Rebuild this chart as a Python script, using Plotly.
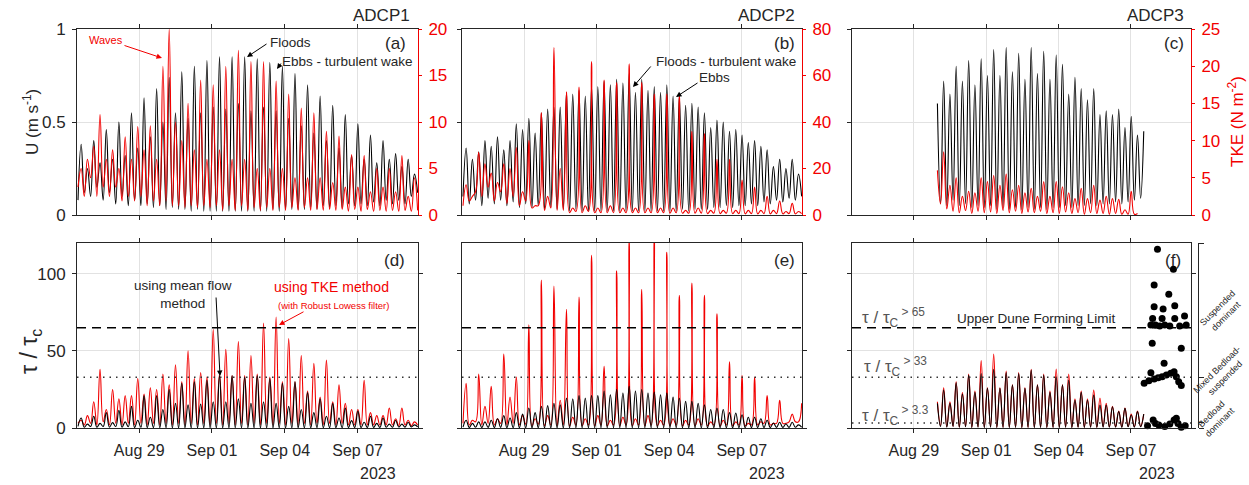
import numpy as np
import pandas as pd
import plotly.graph_objects as go

W, H = 1249, 485
FONT = "Liberation Sans, Arial, sans-serif"
RED = "#f20000"
AXC = "#262626"
GRID = "#e2e2e2"

# ---------------- data ----------------
# Series are sampled every quarter of an M2 tide starting 2023-08-26 11:30:
# even samples = slack (trough), samples 1,5,9.. = flood peaks, 3,7,11.. = ebb peaks
T0 = "2023-08-26 11:30"
STEP_H = 3.11
N_SAMPLES = 109

# (a) ADCP1 depth-mean speed U (m/s) and TKE (N m-2)
a_u_slack = [0.08,0.12,0.10,0.15,0.08,0.12,0.06,0.10,0.05,0.08, 0.05,0.06,0.04,0.05,0.03,0.04,0.03,0.03,0.02,0.03,
             0.02,0.02,0.02,0.02,0.02,0.02,0.02,0.02,0.02,0.02, 0.02,0.03,0.02,0.03,0.03,0.03,0.03,0.04,0.03,0.05,
             0.04,0.05,0.04,0.06,0.05,0.06,0.05,0.07,0.05,0.08, 0.06,0.08,0.06,0.10,0.12]
a_u_flood = [0.38,0.40,0.46,0.50,0.55,0.63,0.68,0.74,0.77,0.80,0.83,0.85,0.85,0.85,0.84,0.82,0.80,0.76,0.70,0.64,
             0.59,0.54,0.49,0.43,0.40,0.33,0.30]
a_u_ebb = [0.25,0.28,0.30,0.32,0.36,0.42,0.50,0.55,0.52,0.55,0.58,0.57,0.60,0.56,0.58,0.56,0.52,0.48,0.44,0.40,
           0.36,0.32,0.30,0.28,0.30,0.26,0.22]
a_tke_slack = [3,2,4,2,3,2,3,1.5,2,1.5, 2,1,1.5,1,1.5,1,1,0.8,1,0.8, 1,0.8,1,0.5,1,0.5,1,0.5,0.8,0.5,
               0.8,0.5,0.8,0.5,0.8,0.5,0.8,0.5,0.6,0.5, 0.6,0.5,0.6,0.4,0.6,0.4,0.6,0.4,0.5,0.4, 0.5,0.4,0.5,0.4,0.5]
a_tke_flood = [5,7.4,6,5,6,7,6,20,8,7,6,7,6,6,5,5,5,4,4,4,3.5,3,3,2.5,3,2.5,2]
a_tke_ebb = [6,10.8,7,8.4,9.5,9.6,16,10,12,14.5,14,16,17.7,16.5,16.5,14.4,13,11.5,11,9,8.5,6.5,6.4,5,5,6.4,4]

# (b) ADCP2
b_u_slack = [0.10,0.06,0.08,0.05,0.09,0.06,0.08,0.05,0.07,0.04, 0.06,0.04,0.05,0.03,0.04,0.03,0.03,0.02,0.03,0.02,
             0.02,0.02,0.02,0.02,0.02,0.02,0.02,0.02,0.02,0.02, 0.02,0.02,0.02,0.02,0.02,0.03,0.02,0.03,0.03,0.03,
             0.04,0.04,0.05,0.04,0.05,0.05,0.06,0.05,0.07,0.06, 0.08,0.07,0.09,0.08,0.10]
b_u_flood = [0.36,0.34,0.37,0.35,0.49,0.52,0.55,0.58,0.66,0.67,0.69,0.72,0.73,0.76,0.73,0.69,0.70,0.64,0.60,0.55,
             0.51,0.45,0.43,0.40,0.35,0.30,0.30]
b_u_ebb = [0.30,0.40,0.42,0.40,0.46,0.44,0.57,0.58,0.65,0.64,0.69,0.70,0.71,0.66,0.67,0.66,0.64,0.59,0.58,0.47,
           0.50,0.46,0.39,0.37,0.26,0.25,0.22]
b_tke_slack = [4,6,10,8,12,6,10,5,8,4, 6,3,4,2,3,2,2,1,1.5,1, 1.5,1,1,1,1,1,1,1,1,1, 1,1,1,0.8,1,0.8,0.8,0.8,0.8,0.6,
               0.8,0.6,0.8,0.6,0.6,0.5,0.6,0.5,0.6,0.5, 0.6,0.5,0.6,0.5,0.6]
b_tke_flood = [13,27,18,22,29,32,44,72,53,55,66,58,57,65,57,52,52,51,36,35,24,24,15,12,8,6,5]
b_tke_ebb = [8,22,14,20,10,4,8,20,3,4,3,4,3,3,3,3,3,2,3,2,2,2,2,2,2,1.5,1.5]

# (c) ADCP3 (record starts ~Aug 30 and ends ~Sep 7)
c_u_slack = [None]*14 + [0.06,0.05,0.08,0.05,0.06,0.04,0.05,0.04,0.05,0.03, 0.04,0.03,0.04,0.03,0.04,0.03,0.04,0.03,
             0.04,0.04, 0.05,0.04,0.05,0.05,0.06,0.05,0.06,0.06,0.07,0.06, 0.07,0.08,0.09] + [None]*8
c_u_flood = [None]*7 + [0.72,0.80,0.83,0.84,0.89,0.90,0.87,0.90,0.88,0.86,0.65,0.68,0.68,0.56,0.57,0.53,0.45] + [None]*3
c_u_ebb = [None]*6 + [0.60,0.65,0.72,0.70,0.75,0.75,0.77,0.73,0.76,0.73,0.81,0.74,0.62,0.54,0.54,0.47,0.43] + [None]*4
c_tke_slack = [None]*14 + [1.5,0.8,0.5,0.3,0.6,0.2,0.5,0.3,0.4,0.2, 0.6,0.3,0.5,0.2,0.4,0.3,0.5,0.2,0.3,0.2,
               0.4,0.2,0.3,0.1,0.3,0.2,0.2,0.1,0.2,0.1, 0.1,0.1] + [None]*9
c_tke_flood = [None]*7 + [8.5,5,3.2,5,5.3,5.5,4,3.6,4.5,4.5,3,3.6,4,2.5,2.1,3.2] + [None]*4
c_tke_ebb = [None]*6 + [6,4,2.5,3,4.5,4,3.4,3,2.5,2.5,3.8,2.2,2.2,2,2.2,0.7,0.2] + [None]*4

# (d) ADCP1 tau/tau_c : mean-flow method (black) and TKE method (red)
d_mf_slack = [1,0.5,1,0.5,1,0.5,1,0.5,0.8,0.3, 0.5,0.3,0.3,0.2,0.2,0.1,0.1,0.1,0.1,0.1, 0.1,0.1,0.1,0.1,0.1,0.1,0.1,0.1,0.1,0.1,
              0.1,0.1,0.1,0.1,0.1,0.1,0.1,0.1,0.2,0.2, 0.2,0.2,0.2,0.3,0.3,0.3,0.3,0.4,0.4,0.5, 0.5,0.6,0.6,0.7,0.8]
d_mf_flood = [6.5,7.6,10,11.5,14,21,21,25,29,30,31,34,34,33,34,32,29,30,23,19,16,13,11,7.6,6.5,5,3.7]
d_mf_ebb = [2.5,3,3.5,4,5,7,12,16,15,15.6,17,17,19,16,17,16,14,12,10,7.6,6.5,4.8,3.7,3,2.5,2.5,2]
d_tke_slack = [3,2,3,2,4,2,3,2,3,2, 3,2,3,2,3,2,3,2,3,2, 3,2,3,2,3,2,3,2,3,2, 3,2,3,2,3,2,3,2,3,2,
               3,2,3,2,2,2,2,2,2,2, 2,1.5,2,1.5,2]
d_tke_flood = [5,17,12,19,21,22,25,28,30,32,33,35,34,34,35,33,30,30,24,20,17,16,12,10,8,6,5]
d_tke_ebb = [8,38,25,21,32,26,35,41,50,36,64,51,56,47,68,72,58,47,42,44,28,12,31,8,13,13,4]

# (e) ADCP2 tau/tau_c
e_mf_slack = [0.5,0.3,0.5,0.3,0.4,0.3,0.4,0.2,0.3,0.2, 0.2,0.1,0.2,0.1,0.1,0.1,0.1,0.1,0.1,0.1, 0.1,0.1,0.1,0.1,0.1,0.1,0.1,0.1,0.1,0.1,
              0.1,0.1,0.1,0.1,0.1,0.1,0.1,0.1,0.1,0.1, 0.2,0.2,0.2,0.2,0.2,0.2,0.3,0.3,0.3,0.3, 0.4,0.4,0.4,0.5,0.5]
e_mf_flood = [5,4,5,8,10,13,14,16,19.5,21,21,24,25,27,25,23.4,22.7,19.5,17.3,15,13,10,8.6,7,5,3.7,3.7]
e_mf_ebb = [3,4,6,6.5,9,10,14.5,15,19,19.5,21,21.6,22.7,24,22.7,21.6,20,17.3,16,12,12,9.7,7,6,3.2,2.6,2]
e_tke_slack = [3,2,4,2,3,2,3,2,3,2, 2.5,1.5,2.5,1.5,2,1.5,2,1.5,2,1.5, 2,1.5,2,1.5,2,1.5,2,1.5,2,1.5,
               2,1.5,2,1.5,2,1.5,2,1.5,2,1.5, 2,1.5,2,1.5,2,1.5,2,2,3,2, 3,3,4,4,16]
e_tke_flood = [29,35,27,48,33,67,96,92,77,85,112,40,102,122,90,124,114,86,94,86,74,43,34,33,21,18,9]
e_tke_ebb = [5,14,6,20,8,6,8,18,7,6,8,5,7,6,8,5,6,5,6,4,5,4,3,4,3,3,4]

# (f) ADCP3 tau/tau_c
f_mf_slack = [None]*14 + [1,0.5,1,0.5,0.8,0.3,0.5,0.3,0.5,0.3, 0.4,0.3,0.4,0.3,0.4,0.3,0.4,0.3,0.4,0.3,
              0.5,0.3,0.5,0.4,0.5,0.4,0.6,0.5,0.6,0.5, 0.8,0.6,0.8] + [None]*8
f_mf_flood = [None]*7 + [24.6,29.4,34.3,35.4,38,36,35.4,37.6,34.3,33.2,31,23.1,21.4,14.9,10.6,8.4,9] + [None]*3
f_mf_ebb = [None]*6 + [16,16,22,23.1,25.7,25.7,27.8,25.7,27.8,23.1,27.8,18.2,18.2,14.9,13.8,12.7,10.6] + [None]*4
f_tke_slack = [None]*14 + [1.5,0.8,1.2,0.6,1,0.5,0.8,0.5,0.8,0.5, 0.6,0.5,0.6,0.5,0.6,0.5,0.6,0.5,0.6,0.5,
               0.7,0.5,0.7,0.6,0.7,0.6,0.8,0.7,0.8,0.7, 1,0.8,1] + [None]*8
f_tke_flood = [None]*7 + [26,30,35,43.7,48,37,36,38,35,38.3,35,24,24.6,16,11,9,9] + [None]*3
f_tke_ebb = [None]*6 + [17,17,23,24,26,26,28,26,28,24,28,19,19,19.5,14,13,11] + [None]*4

# (f) sediment-transport regime points
f_pts_time = ["2023-09-08 02:25","2023-09-08 18:15","2023-09-07 23:05","2023-09-08 13:40","2023-09-07 23:05",
              "2023-09-08 08:00","2023-09-08 19:35",
              "2023-09-07 19:50","2023-09-07 21:35","2023-09-08 00:25","2023-09-08 04:40","2023-09-08 07:00",
              "2023-09-08 09:40","2023-09-08 14:40","2023-09-08 19:35","2023-09-09 00:30","2023-09-09 05:20",
              "2023-09-09 07:00",
              "2023-09-07 21:10","2023-09-09 02:05",
              "2023-09-07 13:10","2023-09-07 17:50","2023-09-07 19:50","2023-09-07 23:05","2023-09-08 03:05",
              "2023-09-08 07:00","2023-09-08 11:15","2023-09-08 09:00","2023-09-08 15:35","2023-09-08 18:55",
              "2023-09-08 21:10","2023-09-08 23:30","2023-09-09 02:05",
              "2023-09-07 16:30","2023-09-07 22:05","2023-09-08 00:25","2023-09-08 03:45","2023-09-08 09:40",
              "2023-09-08 14:40","2023-09-08 18:55","2023-09-08 21:10","2023-09-08 22:50","2023-09-09 02:05",
              "2023-09-09 06:00"]
f_pts_val = [115.9,102.9,92.8,86.7,78.7,77.2,79.3,
             66.8,71.0,66.8,66.2,71.0,66.8,66.2,71.0,66.2,72.6,66.8,
             54.9,51.7,
             29.0,30.7,35.9,31.8,32.6,33.3,34.4,42.0,35.5,36.5,33.3,30.0,27.5,
             1.5,5.2,3.0,1.9,0.9,2.6,5.2,6.3,3.0,0.5,1.5]

date_ticks = ["2023-08-29", "2023-09-01", "2023-09-04", "2023-09-07"]
date_ticktext = ["Aug 29", "Sep 01", "Sep 04", "Sep 07"]
x_range = ["2023-08-26 10:30", "2023-09-09 11:45"]

# ---------------- helpers ----------------
times = pd.Timestamp(T0) + pd.to_timedelta(np.arange(N_SAMPLES) * STEP_H, unit="h")


def weave(slack, flood, ebb):
    v = [None] * N_SAMPLES
    for i, s in enumerate(slack):
        v[2 * i] = s
    for k, f in enumerate(flood):
        v[1 + 4 * k] = f
    for k, e in enumerate(ebb):
        v[3 + 4 * k] = e
    return v


def PX(x):
    return x / W


def PY(y):
    return 1 - y / H


fig = go.Figure()


def line(x, y, xa, ya, color, width=1.1):
    fig.add_trace(go.Scatter(x=x, y=y, xaxis=xa, yaxis=ya, mode="lines",
                             line=dict(color=color, width=width, shape="spline", smoothing=1.2),
                             connectgaps=False, hoverinfo="skip", showlegend=False))


# top row: black U then red TKE on top
line(times, weave(a_u_slack, a_u_flood, a_u_ebb), "x", "y", "black")
line(times, weave(a_tke_slack, a_tke_flood, a_tke_ebb), "x", "y2", RED)
line(times, weave(b_u_slack, b_u_flood, b_u_ebb), "x2", "y3", "black")
line(times, weave(b_tke_slack, b_tke_flood, b_tke_ebb), "x2", "y4", RED)
line(times, weave(c_u_slack, c_u_flood, c_u_ebb), "x3", "y5", "black")
line(times, weave(c_tke_slack, c_tke_flood, c_tke_ebb), "x3", "y6", RED)
# bottom row: red TKE-method then black mean-flow
line(times, weave(d_tke_slack, d_tke_flood, d_tke_ebb), "x4", "y7", RED)
line(times, weave(d_mf_slack, d_mf_flood, d_mf_ebb), "x4", "y7", "black")
line(times, weave(e_tke_slack, e_tke_flood, e_tke_ebb), "x5", "y8", RED)
line(times, weave(e_mf_slack, e_mf_flood, e_mf_ebb), "x5", "y8", "black")
line(times, weave(f_tke_slack, f_tke_flood, f_tke_ebb), "x6", "y9", RED)
line(times, weave(f_mf_slack, f_mf_flood, f_mf_ebb), "x6", "y9", "black")

fig.add_trace(go.Scatter(x=pd.to_datetime(f_pts_time), y=f_pts_val, xaxis="x6", yaxis="y9", mode="markers",
                         marker=dict(color="black", size=7), cliponaxis=False, hoverinfo="skip", showlegend=False))

# ---------------- axes ----------------
cols = [(77, 418), (462, 802), (852, 1191)]
top = (29, 215)
bot = (243, 428)
tickfont_x = dict(family=FONT, size=16, color=AXC)
tickfont_y = dict(family=FONT, size=17, color=AXC)
redfont = dict(family=FONT, size=17, color=RED)

layout = dict(width=W, height=H, margin=dict(l=0, r=0, t=0, b=0, autoexpand=False), paper_bgcolor="white",
              plot_bgcolor="white", showlegend=False, font=dict(family=FONT, color=AXC))


def xax(col, anchor, labels):
    return dict(domain=[PX(cols[col][0]), PX(cols[col][1])], anchor=anchor, type="date", range=x_range,
                tickvals=date_ticks, ticktext=date_ticktext, showticklabels=labels, tickfont=tickfont_x,
                ticks="outside", ticklen=4, tickcolor=AXC, showline=True, linecolor=AXC, linewidth=1,
                mirror="ticks", showgrid=True, gridcolor=GRID, gridwidth=1, zeroline=False,
                ticklabelstandoff=4, automargin=False)


ids = ["", "2", "3", "4", "5", "6"]
for i in range(3):
    layout["xaxis" + ids[i]] = xax(i, "y" + ["", "3", "5"][i], False)
    layout["xaxis" + ids[i + 3]] = xax(i, "y" + ["7", "8", "9"][i], True)

top_dom = [PY(top[1]), PY(top[0])]
bot_dom = [PY(bot[1]), PY(bot[0])]
red_ranges = [(20, [0, 5, 10, 15, 20]), (80, [0, 20, 40, 60, 80]), (25, [0, 5, 10, 15, 20, 25])]
u_ids = ["", "3", "5"]
t_ids = ["2", "4", "6"]
for i in range(3):
    xa = "x" + ids[i]
    layout["yaxis" + u_ids[i]] = dict(domain=top_dom, anchor=xa, range=[0, 1], tickvals=[0, 0.5, 1],
                                      ticktext=["0", "0.5", "1"], showticklabels=(i == 0), tickfont=tickfont_y,
                                      ticks="outside", ticklen=4, tickcolor=AXC, showline=True, linecolor=AXC,
                                      mirror=False, showgrid=True, gridcolor=GRID, zeroline=False,
                                      ticklabelstandoff=3, automargin=False)
    rmax, rt = red_ranges[i]
    layout["yaxis" + t_ids[i]] = dict(overlaying="y" + u_ids[i], anchor=xa, side="right", range=[0, rmax],
                                      tickvals=rt, tickfont=redfont, ticks="outside", ticklen=3, tickcolor=RED,
                                      showline=True, linecolor=RED, showgrid=False, zeroline=False,
                                      ticklabelstandoff=3, automargin=False)
for i, yid in enumerate(["7", "8", "9"]):
    layout["yaxis" + yid] = dict(domain=bot_dom, anchor="x" + ids[i + 3], range=[0, 120], tickvals=[0, 50, 100],
                                 showticklabels=(i == 0), tickfont=tickfont_y, ticks="outside", ticklen=4,
                                 tickcolor=AXC, showline=True, linecolor=AXC, mirror="ticks", showgrid=True,
                                 gridcolor=GRID, zeroline=False, ticklabelstandoff=3, automargin=False)
# regime bracket axis for panel (f)
layout["yaxis10"] = dict(overlaying="y9", anchor="free", position=PX(1198), side="right", range=[0, 120],
                         tickvals=[0, 3.3, 33, 120], showticklabels=False, ticks="outside", ticklen=5,
                         tickcolor=AXC, showline=True, linecolor=AXC, showgrid=False, zeroline=False,
                         automargin=False)
fig.update_layout(**layout)
# empty trace to activate y10
fig.add_trace(go.Scatter(x=[None], y=[None], xaxis="x6", yaxis="y10", showlegend=False, hoverinfo="skip"))

# threshold lines
shapes = []
for xa, ya in [("x4", "y7"), ("x5", "y8"), ("x6", "y9")]:
    shapes.append(dict(type="line", xref=xa + " domain", x0=0, x1=1, yref=ya, y0=65, y1=65,
                       line=dict(color="black", width=1.5, dash="9px,6px")))
    shapes.append(dict(type="line", xref=xa + " domain", x0=0, x1=1, yref=ya, y0=33, y1=33,
                       line=dict(color="#333333", width=1.5, dash="1.5px,5px")))
shapes.append(dict(type="line", xref="x6 domain", x0=0, x1=1, yref="y9", y0=3.3, y1=3.3,
                   line=dict(color="#333333", width=1.5, dash="1.5px,5px")))
fig.update_layout(shapes=shapes)

# ---------------- text ----------------
ann = []


def text(t, x, y, size, color=AXC, xanchor="center", yanchor="middle", angle=0, align="center"):
    ann.append(dict(text=t, x=PX(x), y=PY(y), xref="paper", yref="paper", showarrow=False,
                    font=dict(family=FONT, size=size, color=color), xanchor=xanchor, yanchor=yanchor,
                    textangle=angle, align=align))


def arrow(tx, ty, hx, hy, color="black"):
    ann.append(dict(text="", x=PX(hx), y=PY(hy), xref="paper", yref="paper", ax=tx - hx, ay=ty - hy,
                    showarrow=True, arrowhead=2, arrowsize=1.1, arrowwidth=1, arrowcolor=color, standoff=0))


text("ADCP1", 412, 15, 17, xanchor="right")
text("ADCP2", 797, 15, 17, xanchor="right")
text("ADCP3", 1186, 15, 17, xanchor="right")
text("(a)", 408, 43, 17, xanchor="right")
text("(b)", 797, 43, 17, xanchor="right")
text("(c)", 1186, 43, 17, xanchor="right")
text("(d)", 407, 260, 17, xanchor="right")
text("(e)", 797, 260, 17, xanchor="right")
text("(f)", 1183, 260, 17, xanchor="right")
text("U (m s<sup>-1</sup>)", 31, 122, 17, angle=-90)
text("TKE (N m<sup>-2</sup>)", 1236, 122, 17, color=RED, angle=-90)
text("τ / τ<sub>c</sub>", 30, 352, 23, angle=-90)
for x in (398, 787, 1177):
    text("2023", x, 473, 16, xanchor="right")

# panel (a)
text("Waves", 106, 40, 11, color=RED)
arrow(123, 45, 162, 58, RED)
text("Floods", 290, 42, 13.5)
arrow(268, 43, 247, 57)
text("Ebbs - turbulent wake", 347, 61, 13.5)
arrow(282, 62, 277, 69)
# panel (b)
text("Floods - turbulent wake", 726, 61, 13.5)
arrow(652, 65, 633, 87)
text("Ebbs", 715, 77, 13.5)
arrow(699, 82, 676, 97)
# panel (d)
text("using mean flow<br>method", 183, 294, 13.5)
arrow(216, 296, 220, 376)
text("using TKE method", 331, 287, 14, color=RED)
text("(with Robust Lowess filter)", 333, 305, 9.5, color=RED)
arrow(305, 311, 279, 325, RED)
# panel (f)
GR = "#555555"
text("τ / τ<sub>C</sub><sup> > 65</sup>", 860, 317, 17, color=GR, xanchor="left")
text("τ / τ<sub>C</sub><sup> > 33</sup>", 862, 366, 17, color=GR, xanchor="left")
text("τ / τ<sub>C</sub><sup> > 3.3</sup>", 860, 415, 17, color=GR, xanchor="left")
text("Upper Dune Forming Limit", 1036, 318, 13.5)
text("Suspended<br>dominant", 1222, 312, 9, angle=-45)
text("Mixed Bedload-<br>suspended", 1221, 374, 9, angle=-45)
text("Bedload<br>dominant", 1216, 418, 9, angle=-45)

fig.update_layout(annotations=ann)
fig.write_html("out.html")
